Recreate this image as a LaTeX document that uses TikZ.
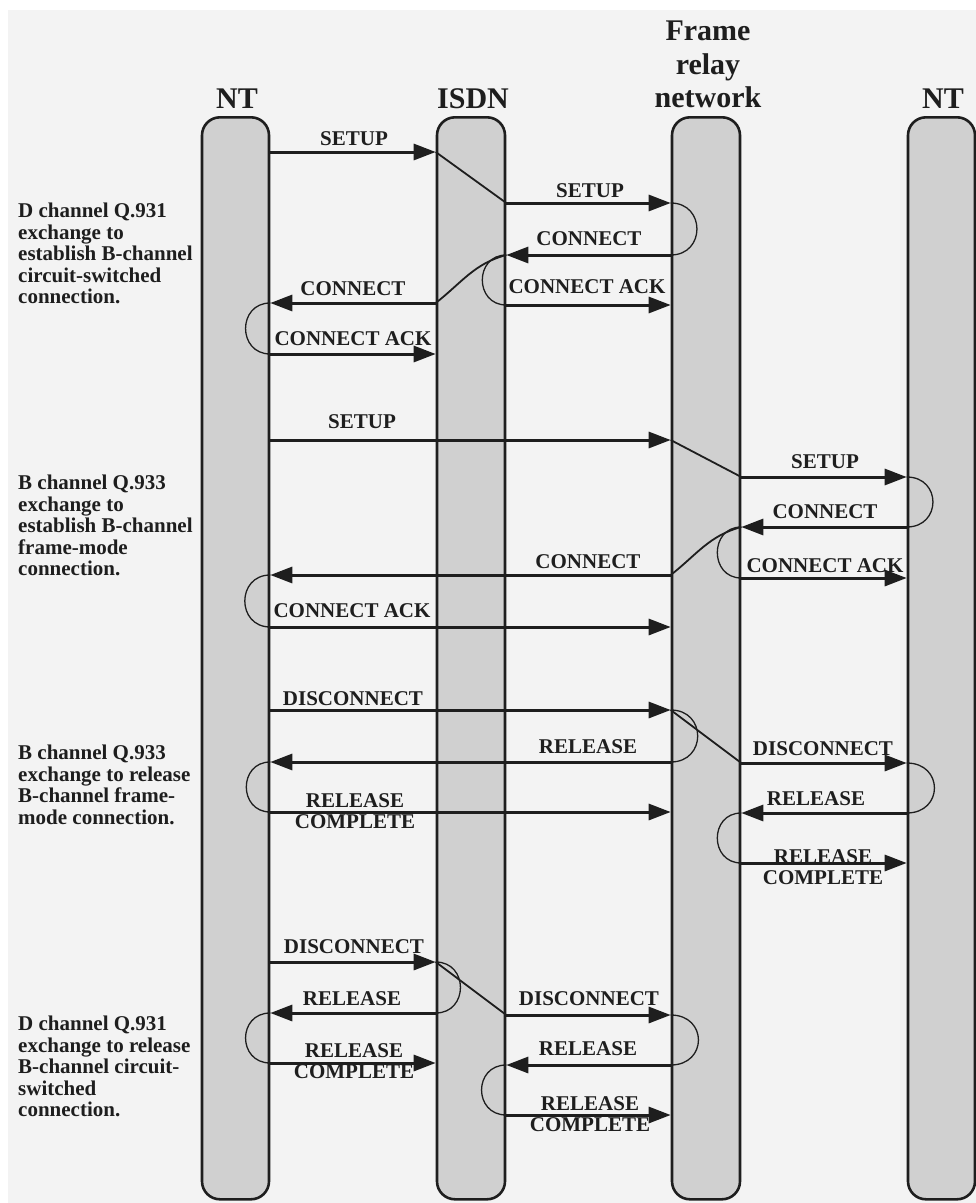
\documentclass[tikz,border=0pt]{standalone}
\usepackage{fontspec}
\setmainfont{Liberation Serif}
\usetikzlibrary{arrows.meta}

\definecolor{paper}{HTML}{F3F3F3}
\definecolor{lanefill}{HTML}{D0D0D0}
\definecolor{ink}{HTML}{1E1E1E}

% a named point on the edge of a lifeline at a given height
\newcommand\evpt[3]{\coordinate (#1) at (#2 |- 0,#3);}

\tikzset{
  lane/.style={draw=ink, line width=2.6pt, fill=lanefill, rounded corners=18pt,
    minimum height=1082pt, inner sep=0pt, anchor=north},
  msg/.style={draw=ink, line width=3pt, -{Triangle[length=22pt,width=16pt]}},
  turn/.style={draw=ink, line width=1.3pt},
  hop/.style={draw=ink, line width=1.8pt},
  lbl/.style={font=\fontsize{21}{21.5}\selectfont\bfseries, text=ink, inner sep=0pt,
    anchor=north, align=center},
  head/.style={font=\fontsize{30}{33.5}\selectfont\bfseries, text=ink, inner sep=0pt,
    align=center},
  note/.style={font=\fontsize{21}{21.5}\selectfont\bfseries, text=ink, inner sep=0pt,
    anchor=north west, align=left},
}

\begin{document}
\begin{tikzpicture}[x=1pt, y=-1pt]
\useasboundingbox (0,0) rectangle (976,1203);
\fill[white] (0,0) rectangle (976,1203);
\fill[paper] (8,10) rectangle (976,1203);

% lifelines
\node[lane, minimum width=67pt] (NTa)  at (235.5,116) {};
\node[lane, minimum width=68pt] (ISDN) at (471,116) {};
\node[lane, minimum width=68pt] (FR)   at (706,116) {};
\node[lane, minimum width=67pt] (NTb)  at (941.5,116) {};

% headings
\node[head, anchor=base]  (hA) at (237,108) {NT};
\node[head, anchor=base]  (hB) at (473,108) {ISDN};
\node[head, anchor=north] (hC) at (708,21) {Frame\\relay\\network};
\node[head, anchor=base]  (hD) at (943,108) {NT};

% explanations on the left
\node[note] (n1) at (18,203) {D channel Q.931\\exchange to\\establish B-channel\\circuit-switched\\connection.};
\node[note] (n2) at (18,475) {B channel Q.933\\exchange to\\establish B-channel\\frame-mode\\connection.};
\node[note] (n3) at (18,745) {B channel Q.933\\exchange to release\\B-channel frame-\\mode connection.};
\node[note] (n4) at (18,1016) {D channel Q.931\\exchange to release\\B-channel circuit-\\switched\\connection.};

% ---- D channel set-up
\evpt{a1}{NTa.east}{152}  \evpt{b1}{ISDN.west}{152}
\evpt{b2}{ISDN.east}{203} \evpt{c2}{FR.west}{203}
\evpt{c3}{FR.west}{255}   \evpt{b3}{ISDN.east}{255}
\evpt{b4}{ISDN.west}{303} \evpt{a4}{NTa.east}{303}
\evpt{b5}{ISDN.east}{305} \evpt{c5}{FR.west}{305}
\evpt{a6}{NTa.east}{354}  \evpt{b6}{ISDN.west}{354}

\draw[msg] (a1) -- (b1);
\draw[hop] (b1) -- (b2);
\draw[msg] (b2) -- (c2);
\draw[turn] (c2) .. controls +(35,0) and +(35,0) .. (c3);
\draw[msg] (c3) -- (b3);
\draw[hop] (b4) to[out=38,in=195] (b3);
\draw[turn] (b3) .. controls +(-32,0) and +(-32,0) .. (b5);
\draw[msg] (b4) -- (a4);
\draw[msg] (b5) -- (c5);
\draw[turn] (a4) .. controls +(-33,0) and +(-33,0) .. (a6);
\draw[msg] (a6) -- (b6);

\node[lbl] (l1) at (354,131) {SETUP};
\node[lbl] (l2) at (590,183) {SETUP};
\node[lbl] (l3) at (589,231) {CONNECT};
\node[lbl] (l4) at (353,281) {CONNECT};
\node[lbl] (l5) at (587,279) {CONNECT ACK};
\node[lbl] (l6) at (353,331) {CONNECT ACK};

% ---- B channel frame-mode set-up
\evpt{a7}{NTa.east}{440}  \evpt{c7}{FR.west}{440}
\evpt{e8}{FR.east}{477}   \evpt{d8}{NTb.west}{477}
\evpt{d9}{NTb.west}{527}  \evpt{e9}{FR.east}{527}
\evpt{c10}{FR.west}{575}  \evpt{a10}{NTa.east}{575}
\evpt{e11}{FR.east}{578}  \evpt{d11}{NTb.west}{578}
\evpt{a12}{NTa.east}{627} \evpt{c12}{FR.west}{627}

\draw[msg] (a7) -- (c7);
\draw[hop] (c7) -- (e8);
\draw[msg] (e8) -- (d8);
\draw[turn] (d8) .. controls +(35,0) and +(35,0) .. (d9);
\draw[msg] (d9) -- (e9);
\draw[hop] (c10) to[out=38,in=195] (e9);
\draw[turn] (e9) .. controls +(-32,0) and +(-32,0) .. (e11);
\draw[msg] (c10) -- (a10);
\draw[msg] (e11) -- (d11);
\draw[turn] (a10) .. controls +(-34,0) and +(-34,0) .. (a12);
\draw[msg] (a12) -- (c12);

\node[lbl] (l7)  at (362,414) {SETUP};
\node[lbl] (l8)  at (825,454) {SETUP};
\node[lbl] (l9)  at (825,504) {CONNECT};
\node[lbl] (l10) at (588,554) {CONNECT};
\node[lbl] (l11) at (825,558) {CONNECT ACK};
\node[lbl] (l12) at (352,603) {CONNECT ACK};

% ---- B channel frame-mode release
\evpt{a13}{NTa.east}{710}  \evpt{c13}{FR.west}{710}
\evpt{c14}{FR.west}{762}   \evpt{a14}{NTa.east}{762}
\evpt{e15}{FR.east}{763}   \evpt{d15}{NTb.west}{763}
\evpt{a16}{NTa.east}{812}  \evpt{c16}{FR.west}{812}
\evpt{d17}{NTb.west}{813}  \evpt{e17}{FR.east}{813}
\evpt{e18}{FR.east}{863}   \evpt{d18}{NTb.west}{863}

\draw[msg] (a13) -- (c13);
\draw[turn] (c13) .. controls +(36,0) and +(36,0) .. (c14);
\draw[hop] (c13) -- (e15);
\draw[msg] (c14) -- (a14);
\draw[msg] (e15) -- (d15);
\draw[turn] (a14) .. controls +(-32,0) and +(-32,0) .. (a16);
\draw[msg] (a16) -- (c16);
\draw[turn] (d15) .. controls +(37,0) and +(37,0) .. (d17);
\draw[msg] (d17) -- (e17);
\draw[turn] (e17) .. controls +(-32,0) and +(-32,0) .. (e18);
\draw[msg] (e18) -- (d18);

\node[lbl] (l13) at (353,691) {DISCONNECT};
\node[lbl] (l14) at (588,739) {RELEASE};
\node[lbl] (l15) at (823,741) {DISCONNECT};
\node[lbl] (l16) at (355,793) {RELEASE\\COMPLETE};
\node[lbl] (l17) at (816,791) {RELEASE};
\node[lbl] (l18) at (823,849) {RELEASE\\COMPLETE};

% ---- D channel release
\evpt{a19}{NTa.east}{962}   \evpt{b19}{ISDN.west}{962}
\evpt{b20}{ISDN.west}{1013} \evpt{a20}{NTa.east}{1013}
\evpt{bb21}{ISDN.east}{1015} \evpt{c21}{FR.west}{1015}
\evpt{a22}{NTa.east}{1063}  \evpt{b22}{ISDN.west}{1063}
\evpt{c23}{FR.west}{1065}   \evpt{bb23}{ISDN.east}{1065}
\evpt{bb24}{ISDN.east}{1115} \evpt{c24}{FR.west}{1115}

\draw[msg] (a19) -- (b19);
\draw[turn] (b19) .. controls +(33,0) and +(33,0) .. (b20);
\draw[hop] (b19) -- (bb21);
\draw[msg] (b20) -- (a20);
\draw[msg] (bb21) -- (c21);
\draw[turn] (a20) .. controls +(-33,0) and +(-33,0) .. (a22);
\draw[msg] (a22) -- (b22);
\draw[turn] (c21) .. controls +(37,0) and +(37,0) .. (c23);
\draw[msg] (c23) -- (bb23);
\draw[turn] (bb23) .. controls +(-33,0) and +(-33,0) .. (bb24);
\draw[msg] (bb24) -- (c24);

\node[lbl] (l19) at (354,939) {DISCONNECT};
\node[lbl] (l20) at (352,991) {RELEASE};
\node[lbl] (l21) at (589,991) {DISCONNECT};
\node[lbl] (l22) at (354,1043) {RELEASE\\COMPLETE};
\node[lbl] (l23) at (588,1041) {RELEASE};
\node[lbl] (l24) at (590,1096) {RELEASE\\COMPLETE};
\end{tikzpicture}
\end{document}
